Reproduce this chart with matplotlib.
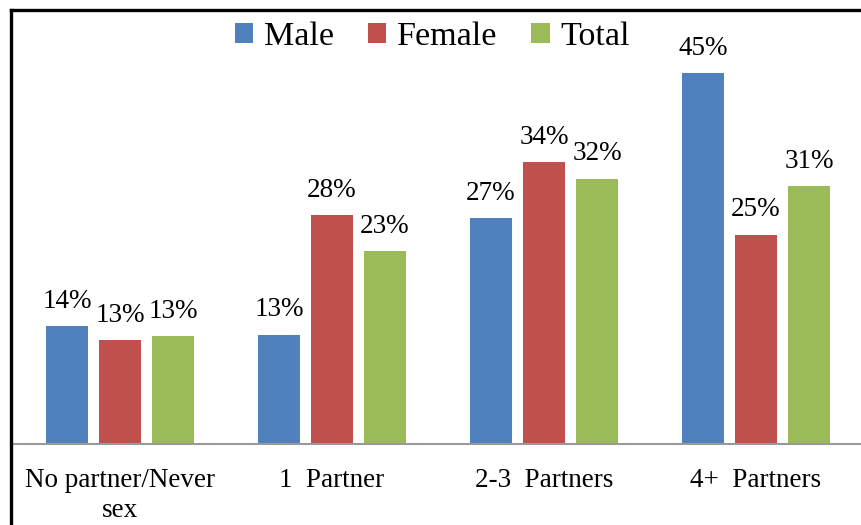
import numpy as np
import matplotlib
matplotlib.use("Agg")
import matplotlib.pyplot as plt
from matplotlib.lines import Line2D

categories = ["No partner/Never\nsex", "1  Partner", "2-3  Partners", "4+  Partners"]
male = [14.3, 13.3, 27.4, 45.0]
female = [12.6, 27.8, 34.2, 25.4]
total = [13.1, 23.4, 32.2, 31.3]

series = [("Male", male, "#4F81BD"),
          ("Female", female, "#C0504D"),
          ("Total", total, "#9BBB59")]

plt.rcParams['font.family'] = ['Liberation Serif', 'DejaVu Serif']

fig = plt.figure(figsize=(8.62, 5.25), dpi=100)
ax = fig.add_axes([14 / 862, 0.154, 1 - 14 / 862, 0.785])

x = np.arange(len(categories))
width = 0.2
step = 0.25
for i, (name, vals, color) in enumerate(series):
    bars = ax.bar(x + (i - 1) * step, vals, width, color=color, label=name)
    ax.bar_label(bars, fmt='%.0f%%', padding=9, fontsize=19.5)

ax.set_xlim(-0.5, 3.5)
ax.set_ylim(0, 50)
ax.set_xticks(x)
ax.set_xticklabels(categories, fontsize=19.5, linespacing=1.3)
ax.tick_params(axis='x', length=0, pad=17)
ax.set_yticks([])
for s in ['top', 'right', 'left']:
    ax.spines[s].set_visible(False)
ax.spines['bottom'].set_color('#999999')
ax.spines['bottom'].set_linewidth(1.5)

ax.legend(loc='upper center', bbox_to_anchor=(0.493, 1.1), ncol=3, frameon=False,
          fontsize=24.5, handlelength=0.55, handleheight=0.55, handletextpad=0.3,
          columnspacing=1.0)

# outer frame (left and top edges)
fig.add_artist(Line2D([11 / 862, 11 / 862], [0, 1 - 10 / 525], color='black', lw=2.4,
                      transform=fig.transFigure))
fig.add_artist(Line2D([11 / 862, 1], [1 - 10 / 525, 1 - 10 / 525], color='black', lw=2.4,
                      transform=fig.transFigure))

fig.savefig("out.png", dpi=100)
